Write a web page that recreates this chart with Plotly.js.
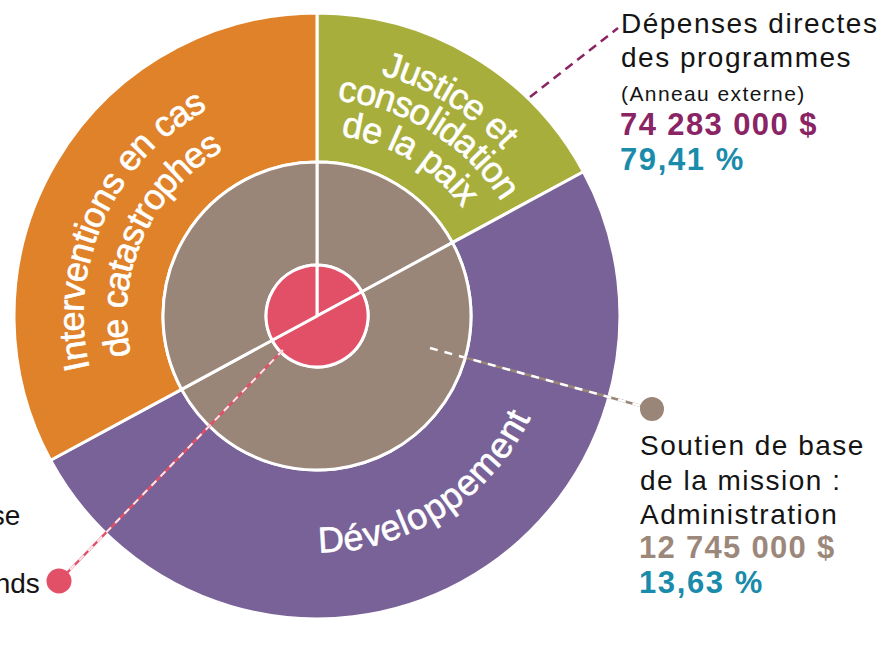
<!DOCTYPE html>
<html><head><meta charset="utf-8">
<script src="https://cdn.plot.ly/plotly-3.0.1.min.js"></script>
<style>html,body{margin:0;padding:0;background:#fff}#chart{width:882px;height:671px}</style>
</head><body><div id="chart"></div>
<script>
// ---------------- DATA ----------------
const sectors = ['Justice et consolidation de la paix', 'Développement', 'Interventions en cas de catastrophes'];
const sectorShares = [17.1, 50.0, 32.9];            // share of the circle
const sectorLabelLines = [['Justice et', 'consolidation', 'de la paix'], ['Développement'], ['Interventions en cas', 'de catastrophes']];
const rings = ['Dépenses directes des programmes', 'Soutien de base de la mission : Administration', 'Fonds'];
const ringAmounts = ['74 283 000 $', '12 745 000 $'];
const ringPercents = ['79,41 %', '13,63 %'];
const outerLabelLines = ['Dépenses directes', 'des programmes', '(Anneau externe)'];
const middleLabelLines = ['Soutien de base', 'de la mission :', 'Administration'];
const innerLabelLines = ['Soutien de base', 'de la mission :', 'Fonds'];

// ---------------- STYLE / LAYOUT ----------------
const W = 882, H = 671;
const CX = 317, CY = 316;
const R_OUT = 303, R_MID = 154, R_IN = 51;
const sectorColors = ['#A8AE3B', '#786297', '#DF8229'];
const midColor = '#9A8679';
const innerColor = '#E25068';
const purpleTxt = '#8A2464', tealTxt = '#1A8BAA', brownTxt = '#9C887B', blackTxt = '#141414';
const FONT = 'Liberation Sans, Arial, sans-serif';

const px = x => x / W;
const py = y => 1 - y / H;
function domainFor(r) { return { x: [px(CX - r), px(CX + r)], y: [py(CY + r), py(CY - r)] }; }

function pieTrace(r, hole, colors, name) {
  return {
    type: 'pie', name: name, labels: sectors, values: sectorShares,
    sort: false, direction: 'clockwise', rotation: 0, hole: hole,
    domain: domainFor(r), textinfo: 'none', hoverinfo: 'none', showlegend: false,
    marker: { colors: colors, line: { color: '#ffffff', width: 3 } }
  };
}
const traces = [
  pieTrace(R_OUT, R_MID / R_OUT, sectorColors, rings[0]),
  pieTrace(R_MID, R_IN / R_MID, sectors.map(() => midColor), rings[1]),
  pieTrace(R_IN, 0, sectors.map(() => innerColor), rings[2])
];

// ---------------- curved ring labels ----------------
const arcSpecs = [
  { s: 0, l: 0, r: 262, a: 31.5, dir: 1 },
  { s: 0, l: 1, r: 229, a: 31.9, dir: 1 },
  { s: 0, l: 2, r: 194, a: 30.6, dir: 1 },
  { s: 2, l: 0, r: 246, a: 294.6, dir: 1 },
  { s: 2, l: 1, r: 203, a: 294.2, dir: 1 },
  { s: 1, l: 0, r: 224, a: 147.6, dir: -1 }
];
const RING_FS = 36;
const cvs = document.createElement('canvas');
const ctx = cvs.getContext('2d');
ctx.font = RING_FS + 'px "Liberation Sans"';
const annotations = [];
const ringIdx = [];
arcSpecs.forEach(sp => {
  const txt = sectorLabelLines[sp.s][sp.l];
  const total = ctx.measureText(txt).width;
  for (let i = 0; i < txt.length; i++) {
    const ch = txt[i];
    if (ch === ' ') continue;
    const a0 = ctx.measureText(txt.slice(0, i)).width;
    const a1 = ctx.measureText(txt.slice(0, i + 1)).width;
    const s = (a0 + a1) / 2 - total / 2;
    const th = sp.a + sp.dir * (s / sp.r) * 180 / Math.PI;
    const rad = th * Math.PI / 180;
    const x = CX + sp.r * Math.sin(rad), y = CY - sp.r * Math.cos(rad);
    ringIdx.push(annotations.length);
    annotations.push({
      text: ch, xref: 'paper', yref: 'paper', x: px(x), y: py(y),
      xanchor: 'center', yanchor: 'middle', showarrow: false,
      textangle: sp.dir === 1 ? th : th - 180,
      font: { family: FONT, size: RING_FS, color: '#ffffff' }
    });
  }
});

// ---------------- side labels ----------------
const spaced = [];
function addLine(text, xLeft, baseline, size, color, bold, spacing, anchor) {
  const idx = annotations.length;
  annotations.push({
    text: text, xref: 'paper', yref: 'paper',
    x: px(xLeft), y: py(baseline - 0.3465 * size),
    xanchor: anchor || 'left', yanchor: 'middle', align: anchor || 'left', showarrow: false,
    borderpad: 0,
    font: { family: FONT, size: size, color: color, weight: bold ? 700 : 400 }
  });
  if (spacing) spaced.push([idx, spacing]);
}
// outer ring label (top right)
addLine(outerLabelLines[0], 620, 33, 28, blackTxt, false, 1.5);
addLine(outerLabelLines[1], 620, 67, 28, blackTxt, false, 1.5);
addLine(outerLabelLines[2], 620, 101, 21, blackTxt, false, 1.4);
addLine(ringAmounts[0], 619, 135, 31, purpleTxt, true, 1.4);
addLine(ringPercents[0], 619, 170, 31, tealTxt, true, 1.6);
// middle ring label (bottom right)
addLine(middleLabelLines[0], 639, 455, 28, blackTxt, false, 1.5);
addLine(middleLabelLines[1], 639, 490, 28, blackTxt, false, 1.5);
addLine(middleLabelLines[2], 639, 524, 28, blackTxt, false, 1.5);
addLine(ringAmounts[1], 638, 558, 31, brownTxt, true, 1.3);
addLine(ringPercents[1], 638, 593, 31, tealTxt, true, 1.6);
// inner label (cut at the left edge, as in the reference)
addLine(innerLabelLines[0], 21, 525, 28, blackTxt, false, 0, 'right');
addLine(innerLabelLines[2], 41, 593, 28, blackTxt, false, 0, 'right');

// ---------------- leader lines ----------------
function seg(x0, y0, x1, y1, color, width, dash) {
  return { type: 'line', xref: 'paper', yref: 'paper', x0: px(x0), y0: py(y0), x1: px(x1), y1: py(y1),
    line: { color: color, width: width, dash: dash || 'solid' }, layer: 'above' };
}
function dot(x, y, r, color) {
  return { type: 'circle', xref: 'paper', yref: 'paper', x0: px(x - r), x1: px(x + r), y0: py(y + r), y1: py(y - r),
    fillcolor: color, line: { width: 0 }, layer: 'above' };
}
const shapes = [
  seg(530, 97, 618, 28, purpleTxt, 2.5, '9px,6px'),
  seg(430, 348, 645, 407, midColor, 2.5),
  seg(430, 348, 645, 407, '#ffffff', 2.5, '8px,7px'),
  dot(652, 409, 12, midColor),
  seg(283, 350, 62, 578, innerColor, 2.5),
  seg(283, 350, 62, 578, '#ffe9ec', 2, '7px,6px'),
  dot(59, 581, 12.5, innerColor)
];

const layout = {
  width: W, height: H, margin: { l: 0, r: 0, t: 0, b: 0 },
  paper_bgcolor: '#ffffff', plot_bgcolor: '#ffffff', showlegend: false,
  annotations: annotations, shapes: shapes
};
Plotly.newPlot('chart', traces, layout, { staticPlot: true, displayModeBar: false }).then(gd => {
  spaced.forEach(([idx, sp]) => {
    const g = gd.querySelector('.annotation[data-index="' + idx + '"]');
    if (g) g.querySelectorAll('text').forEach(t => { t.style.letterSpacing = sp + 'px'; });
  });
  ringIdx.forEach(idx => {
    const g = gd.querySelector('.annotation[data-index="' + idx + '"]');
    if (g) g.querySelectorAll('text').forEach(t => { t.style.stroke = '#ffffff'; t.style.strokeWidth = '0.6px'; });
  });
});
</script>
</body></html>
